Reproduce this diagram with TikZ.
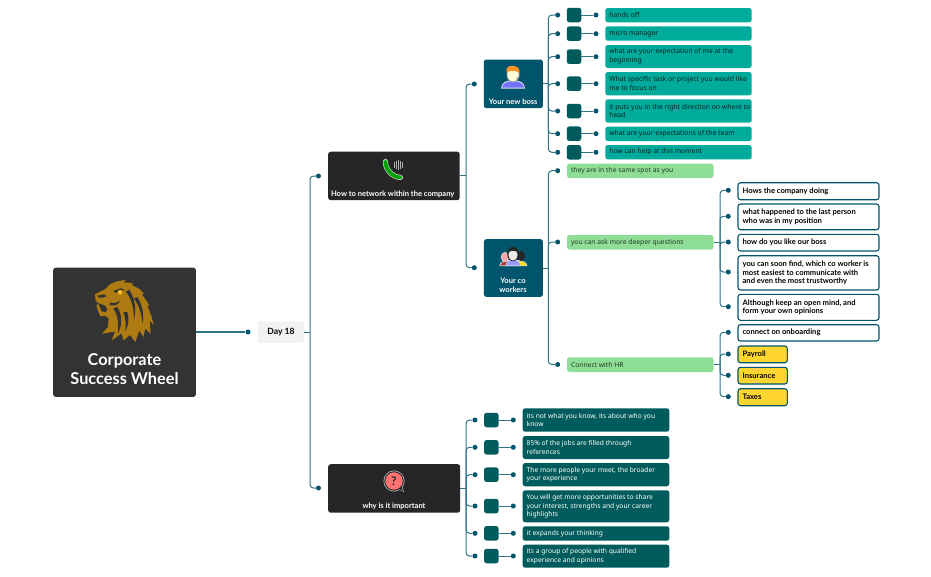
\documentclass[tikz,border=0pt]{standalone}
\usepackage{fontspec}
\setmainfont{Lato}
\newfontfamily\bodyf{Noto Sans}
\usetikzlibrary{calc}
\definecolor{rootc}{HTML}{333333}
\definecolor{darkc}{HTML}{262626}
\definecolor{bossc}{HTML}{00546B}
\definecolor{tealc}{HTML}{00AB9C}
\definecolor{deepc}{HTML}{005C5C}
\definecolor{greenc}{HTML}{8FDE97}
\definecolor{yellowc}{HTML}{FFD630}
\definecolor{linec}{HTML}{2F7389}
\definecolor{dotc}{HTML}{00546B}
\definecolor{gold}{HTML}{AE7A12}
\def\bxpad{3pt}
\tikzset{
 x=1pt,y=-1pt,
 box/.style={rectangle,rounded corners=2.5pt,inner sep=0pt,outer sep=0pt,anchor=north west,align=left},
 conn/.style={draw=linec,line width=1pt},
 fineline/.style={conn,rounded corners=3.5pt},
 dotn/.style={circle,fill=dotc,inner sep=0pt,minimum size=5pt},
 tealbox/.style={box,fill=tealc,text=black!80!tealc,font=\bodyf\fontsize{6.8}{8.7}\selectfont},
 deepbox/.style={box,fill=deepc,text=white,font=\bodyf\fontsize{6.7}{8.7}\selectfont},
 greenbox/.style={box,fill=greenc,text=black!75!greenc,font=\bodyf\fontsize{6.75}{8.7}\selectfont},
 whitebox/.style={box,draw=bossc,line width=1.1pt,fill=white,text=black,execute at begin node=\def\bxpad{4.2pt},font=\bfseries\fontsize{7.6}{8.7}\selectfont},
 yellowbox/.style={box,draw=bossc,line width=1.1pt,fill=yellowc,text=black,execute at begin node=\def\bxpad{4.2pt},font=\bfseries\fontsize{7.6}{8.7}\selectfont},
 smallsq/.style={rectangle,rounded corners=2.5pt,fill=deepc,minimum width=14.5pt,minimum height=14.5pt,inner sep=0pt},
 iconbox/.style={rectangle,rounded corners=2.5pt,inner sep=0pt,anchor=north west,text=white,align=center},
 lbl/.style={text=white,align=center,font=\bfseries\fontsize{7.55}{8.7}\selectfont},
}
% box with exact pixel extents: {name}{style}{x0}{y0}{x1}{y1}{text}
\newcommand{\bx}[7]{%
 \pgfmathsetmacro{\bxw}{#5-#3}\pgfmathsetmacro{\bxh}{#6-#4}%
 \node[#2,minimum width=\bxw pt,minimum height=\bxh pt] (#1) at (#3,#4) {\hspace{\bxpad}\raisebox{-1.1pt}{\parbox{\dimexpr\bxw pt-5pt\relax}{\raggedright #7}}};}
\newcommand{\ib}[6]{%
 \pgfmathsetmacro{\bxw}{#5-#3}\pgfmathsetmacro{\bxh}{#6-#4}%
 \node[iconbox,fill=#2,minimum width=\bxw pt,minimum height=\bxh pt] (#1) at (#3,#4) {};}
% elbow: parent, trunk-coordinate, dot
\newcommand{\elbow}[3]{\draw[fineline] (#2 |- #1.east) |- (#3);}
\newcommand{\stem}[2]{\draw[conn] (#1.east) -- (#2 |- #1.east);}
\begin{document}
\begin{tikzpicture}
\useasboundingbox (0,0) rectangle (931,576);
\fill[white] (0,0) rectangle (931,576);
% trunks
\coordinate (t1) at (310,0);
\coordinate (t2) at (466,0);
\coordinate (t3) at (548.3,0);
\coordinate (t4) at (720,0);
% root
\ib{root}{rootc}{53}{267.5}{195.7}{396.7}
\node[text=white,font=\bfseries\fontsize{16.3}{19}\selectfont,align=center] (roott) at (124.5,369.3) {Corporate\\Success Wheel};
% lion, in 3x crop coordinates
\begin{scope}[shift={(90,275)},scale=0.3333]
\fill[gold] (15,58) -- (30,50) -- (45,43) -- (60,28) -- (78,20) -- (108,14) -- (100,22) -- (130,24) -- (124,29) -- (148,42) -- (162,56) -- (155,57) -- (170,78) -- (177,92) -- (172,93) -- (184,122) -- (191,150) -- (179,136) -- (182,176) -- (166,160) -- (160,186) -- (148,166) -- (136,201) -- (120,180) -- (100,196) -- (95,175) -- (65,196) -- (75,170) -- (36,176) -- (54,156) -- (56,130) -- (46,122) -- (32,124) -- (24,108) -- (20,92) -- (24,84) -- (17,76) -- cycle;
\fill[rootc] (24,84) -- (46,92) -- (52,104) -- (46,112) -- (34,108) -- (30,96) -- cycle;
\fill[rootc] (22,62) -- (42,58) -- (50,64) -- (38,68) -- (26,68) -- cycle;
\fill[rootc] (70,48) -- (92,40) -- (106,46) -- (94,46) -- (78,54) -- cycle;
\fill[rootc] (118,44) .. controls (134,70) and (140,100) .. (132,134) .. controls (132,100) and (124,70) .. (108,50) -- cycle;
\fill[rootc] (142,66) .. controls (158,92) and (162,116) .. (158,146) .. controls (154,116) and (148,92) .. (132,70) -- cycle;
\fill[rootc] (82,96) .. controls (96,118) and (98,148) .. (84,176) .. controls (86,148) and (84,120) .. (70,100) -- cycle;
\fill[rootc] (112,110) .. controls (118,130) and (116,150) .. (106,170) .. controls (108,150) and (108,130) .. (100,112) -- cycle;
\fill[rootc] (62,82) .. controls (74,86) and (82,84) .. (90,76) .. controls (86,90) and (72,94) .. (58,90) -- cycle;
\fill[yellowc!70!orange] (90,52) circle (7);
\end{scope}
% day
\node[dotn] (dday) at (248,332) {};
\node[rectangle,rounded corners=2.5pt,fill=black!5,minimum width=46pt,minimum height=21.5pt,inner sep=0pt,text=black,font=\bfseries\fontsize{8.6}{9}\selectfont] (day) at (281,332) {Day 18};
\draw[draw=linec,line width=1.6pt] (root.east |- dday) -- (dday);
\stem{day}{t1}
% level 1
\node[dotn] (dhow) at (318.5,176) {};
\node[dotn] (dwhy) at (318.5,488) {};
\ib{how}{darkc}{328}{151.5}{459.5}{200}
\ib{why}{darkc}{328}{464}{460}{512.5}
\node[lbl] (howt) at (392.7,194) {How to network within the company};
\node[lbl] (whyt) at (394,506) {why is it important};
\elbow{day}{t1}{dhow}
\elbow{day}{t1}{dwhy}
% phone icon
\begin{scope}[shift={(375,152)}]
\foreach \xx/\hh in {19.5/2.6,21.5/3.8,23.5/4.8,25.5/3.8,27.5/2.6}
 \draw[black!30,line width=1.7pt] (\xx,13-\hh) -- (\xx,13+\hh);
\draw[black!20,line width=5.2pt,line cap=round] (10.5,9.5) .. controls (10,17) and (17,25) .. (25.5,25.5);
\draw[green!65!black,line width=3.8pt,line cap=round] (10.5,9.5) .. controls (10,17) and (17,25) .. (25.5,25.5);
\end{scope}
% question icon
\begin{scope}[shift={(375,466)}]
\fill[black!35] (19,15) circle (10.6);
\fill[black!35] (23,23) -- (29,26.2) -- (27,19) -- cycle;
\fill[darkc] (19,15) circle (9.7);
\fill[darkc] (23.5,22.6) -- (27.8,25) -- (26.4,20) -- cycle;
\fill[red!55!white] (19,15) circle (8.7);
\node[text=darkc,font=\bfseries\fontsize{12}{12}\selectfont] (qm) at (19,15) {?};
\end{scope}
% level 2
\node[dotn] (dboss) at (474.3,84) {};
\node[dotn] (dco) at (474.3,267.7) {};
\ib{boss}{bossc}{483.7}{59.3}{542.7}{108}
\ib{co}{bossc}{483.7}{239}{542.7}{296.7}
\node[lbl] (bosst) at (513.2,101.3) {Your new boss};
\node[lbl] (cot) at (513,285) {Your co\\workers};
\stem{how}{t2}
\elbow{how}{t2}{dboss}
\elbow{how}{t2}{dco}
% boss icon
\begin{scope}[shift={(495,60)}]
\fill[white!90!black] (6,28.5) .. controls (6,22) and (12,20.5) .. (18,20) .. controls (24,20.5) and (30,22) .. (30,28.5) -- cycle;
\fill[blue!55!white] (7,27.6) .. controls (7.5,22.5) and (13,21.5) .. (18,21) .. controls (23,21.5) and (28.5,22.5) .. (29,27.6) -- cycle;
\fill[black!40] (18,14.5) ellipse (6.5 and 7.8);
\fill[yellow!15!white] (18,14.5) ellipse (5.7 and 7);
\fill[orange!85!white] (11.5,12) .. controls (11,5) and (16,6) .. (18,6) .. controls (22,6) and (25,8) .. (24.5,13) .. controls (20,10) and (16,10.5) .. (11.5,12) -- cycle;
\draw[black!50,line width=.6pt] (24.8,12) -- (24.8,16) -- (21,19.5);
\end{scope}
% co-workers icon
\begin{scope}[shift={(495,242)}]
\fill[white!85!black] (4.3,24) .. controls (4.5,20) and (8,19) .. (12,18) -- (24,18) .. controls (28,19) and (32.3,20) .. (32.3,24) -- cycle;
\fill[red!60!black!80!white] (5.2,23.3) .. controls (5.5,21) and (8,20) .. (12,19.2) -- (13,23.3) -- cycle;
\fill[yellow!80!orange] (24,19.2) .. controls (28,20) and (31.3,21) .. (31.3,23.3) -- (24,23.3) -- cycle;
\fill[white!85!black] (10.4,24) .. controls (10.4,19.5) and (14,17.8) .. (18,17.3) .. controls (22,17.8) and (25.6,19.5) .. (25.6,24) -- cycle;
\fill[blue!40!white] (11.2,23.3) .. controls (11.2,20) and (14,18.5) .. (18,18) .. controls (22,18.5) and (24.8,20) .. (24.8,23.3) -- cycle;
\fill[white!85!black] (10,15) ellipse (4.2 and 5);
\fill[red!35!white] (10,15) ellipse (3.4 and 4.2);
\fill[black!85] (26,14) ellipse (3.9 and 5);
\fill[black!85] (18,12) ellipse (5.8 and 7.2);
\fill[white!92!black] (18,13) ellipse (4.6 and 5.6);
\fill[black!85] (13,10) .. controls (13,5) and (23,5) .. (23,10) .. controls (20,8.5) and (16,8.5) .. (13,10) -- cycle;
\end{scope}
% boss children
\foreach \nm/\yy in {a/15,b/33.7,c/56.7,d/83.7,e/111,f/133.7,g/152.3}{
 \node[dotn] (d1\nm) at (557.7,\yy) {};
 \node[smallsq] (s\nm) at (574,\yy) {};
 \node[dotn] (e\nm) at (596,\yy) {};
 \draw[conn] (s\nm) -- (e\nm);
}
\draw[conn] (boss.east) -- (t3 |- boss.east);
\foreach \nm in {a,b,c,d,e,f,g}{\elbow{boss}{t3}{d1\nm}}
\bx{ta}{tealbox}{605.3}{8}{751.7}{22.3}{hands off}
\bx{tb}{tealbox}{605.3}{26.3}{751.7}{40.7}{micro manager}
\bx{tc}{tealbox}{605.3}{45}{751.7}{68}{what are your expectation of me at the\\beginning}
\bx{td}{tealbox}{605.3}{72}{751.7}{95.3}{What specific task or project you would like\\me to focus on}
\bx{te}{tealbox}{605.3}{99.3}{751.7}{122.7}{it puts you in the right direction on where to\\head}
\bx{tf}{tealbox}{605.3}{126.7}{751.7}{141}{what are your expectations of the team}
\bx{tg}{tealbox}{605.3}{145}{751.7}{159.3}{how can help at this moment}
% coworker children
\node[dotn] (dsame) at (557.7,170.7) {};
\node[dotn] (dask) at (557.7,242) {};
\node[dotn] (dhr) at (557.7,364.5) {};
\stem{co}{t3}
\elbow{co}{t3}{dsame}
\elbow{co}{t3}{dask}
\elbow{co}{t3}{dhr}
\bx{same}{greenbox}{567}{163.7}{713.5}{178}{they are in the same spot as you}
\bx{ask}{greenbox}{567}{235}{713.5}{249.5}{you can ask more deeper questions}
\bx{hr}{greenbox}{567}{357.3}{713.5}{372}{Connect with HR}
% questions
\foreach \nm/\yy in {a/190.3,b/216.3,c/242,d/272,e/306.7}{\node[dotn] (q\nm) at (728.3,\yy) {};\elbow{ask}{t4}{q\nm}}
\stem{ask}{t4}
\bx{wa}{whitebox}{738}{182.7}{879}{199.7}{Hows the company doing}
\bx{wb}{whitebox}{738}{204}{879}{229.7}{what happened to the last person\\who was in my position}
\bx{wc}{whitebox}{738}{234.3}{879}{251}{how do you like our boss}
\bx{wd}{whitebox}{738}{255.7}{879}{290}{you can soon find, which co worker is\\most easiest to communicate with\\and even the most trustworthy}
\bx{we}{whitebox}{738}{294.3}{879}{320.3}{Although keep an open mind, and\\form your own opinions}
% hr
\foreach \nm/\yy in {a/332.3,b/354,c/375.3,d/396.7}{\node[dotn] (h\nm) at (728.3,\yy) {};\elbow{hr}{t4}{h\nm}}
\stem{hr}{t4}
\bx{ha}{whitebox}{738}{324.7}{879}{341}{connect on onboarding}
\bx{hb}{yellowbox}{738}{346}{787.3}{362.7}{Payroll}
\bx{hc}{yellowbox}{738}{367.3}{787.3}{384}{Insurance}
\bx{hd}{yellowbox}{738}{388.7}{787.3}{405.7}{Taxes}
% why children
\foreach \nm/\yy in {a/420,b/447.3,c/474.7,d/506,e/533.3,f/556}{
 \node[dotn] (k\nm) at (475,\yy) {};
 \node[smallsq] (m\nm) at (491.3,\yy) {};
 \node[dotn] (n\nm) at (513.3,\yy) {};
 \draw[conn] (m\nm) -- (n\nm);
 \elbow{why}{t2}{k\nm}
}
\stem{why}{t2}
\bx{xa}{deepbox}{522.7}{408.3}{669.3}{431.7}{its not what you know, its about who you\\know}
\bx{xb}{deepbox}{522.7}{436}{669.3}{459}{85\% of the jobs are filled through\\references}
\bx{xc}{deepbox}{522.7}{463}{669.3}{486.3}{The more people your meet, the broader\\your experience}
\bx{xd}{deepbox}{522.7}{490.3}{669.3}{522.3}{You will get more opportunities to share\\your interest, strengths and your career\\highlights}
\bx{xe}{deepbox}{522.7}{526.3}{669.3}{540.7}{it expands your thinking}
\bx{xf}{deepbox}{522.7}{544.7}{669.3}{567.7}{its a group of people with qualified\\experience and opinions}
\end{tikzpicture}
\end{document}
